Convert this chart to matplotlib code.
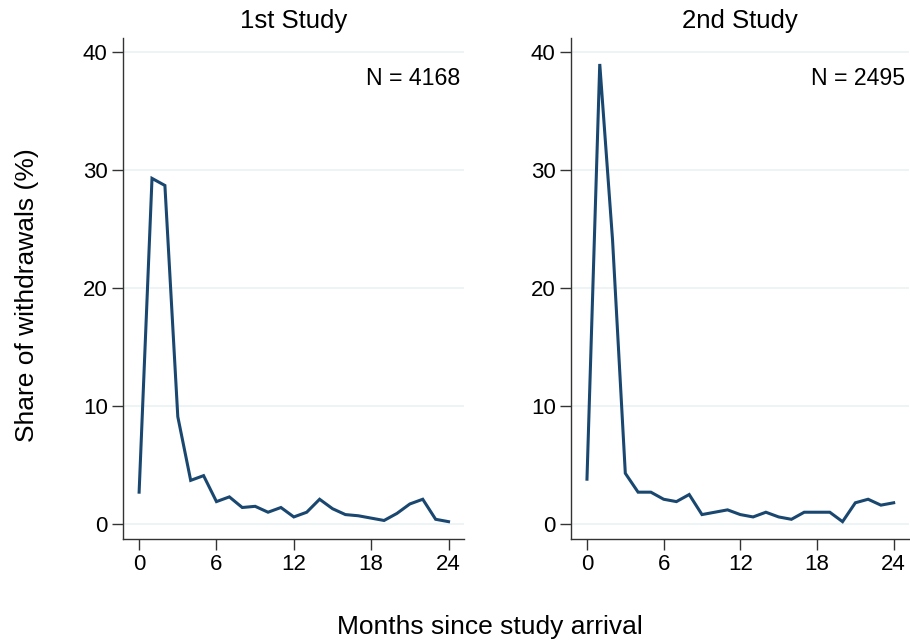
import numpy as np
import matplotlib
matplotlib.use("Agg")
import matplotlib.pyplot as plt

plt.rcParams['font.family'] = ['Liberation Sans', 'DejaVu Sans']

months = np.arange(25)

# share of withdrawals (%) per month since arrival
study1 = [2.7, 29.3, 28.7, 9.1, 3.7, 4.1, 1.9, 2.3, 1.4, 1.5, 1.0, 1.4, 0.6,
          1.0, 2.1, 1.3, 0.8, 0.7, 0.5, 0.3, 0.9, 1.7, 2.1, 0.4, 0.2]
study2 = [3.8, 39.0, 24.1, 4.3, 2.7, 2.7, 2.1, 1.9, 2.5, 0.8, 1.0, 1.2, 0.8,
          0.6, 1.0, 0.6, 0.4, 1.0, 1.0, 1.0, 0.2, 1.8, 2.1, 1.6, 1.8]

titles = ['1st Study', '2nd Study']
n_labels = ['N = 4168', 'N = 2495']
series = [study1, study2]

line_col = '#1a476f'
grid_col = '#eaf2f3'
spine_col = '#333333'

fig = plt.figure(figsize=(9.1, 6.44), dpi=100)
W, H = 910, 644
boxes = [(123, 38, 464, 539), (571, 38, 909, 539)]

for k in range(2):
    x0, y0, x1, y1 = boxes[k]
    ax = fig.add_axes([x0 / W, 1 - y1 / H, (x1 - x0) / W, (y1 - y0) / H])
    ax.plot(months, series[k], color=line_col, lw=2.2, solid_joinstyle='miter')
    ax.set_xlim(-1.25, 25.2)
    ax.set_ylim(-1.27, 41.2)
    ax.set_xticks([0, 6, 12, 18, 24])
    ax.set_yticks([0, 10, 20, 30, 40])
    for v in [0, 10, 20, 30, 40]:
        ax.axhline(v, color=grid_col, lw=1.2, zorder=0)
    for s in ['top', 'right']:
        ax.spines[s].set_visible(False)
    for s in ['left', 'bottom']:
        ax.spines[s].set_color(spine_col)
        ax.spines[s].set_linewidth(1.0)
    ax.tick_params(axis='both', direction='out', length=8, width=1.0,
                   color=spine_col, labelsize=16, pad=3)
    # N label, top right
    fig.text((x1 - 4) / W, 1 - 85 / H, n_labels[k], ha='right',
             va='baseline', fontsize=16.7)
    fig.text((x0 + x1) / 2 / W, 1 - 28 / H, titles[k], ha='center',
             va='baseline', fontsize=18.5)

fig.text(27 / W, 1 - 295 / H, 'Share of withdrawals (%)', rotation=90,
         ha='center', va='center', fontsize=19)
fig.text(490 / W, 1 - 634 / H, 'Months since study arrival', ha='center',
         va='baseline', fontsize=19)

fig.savefig('out.png', dpi=100)
